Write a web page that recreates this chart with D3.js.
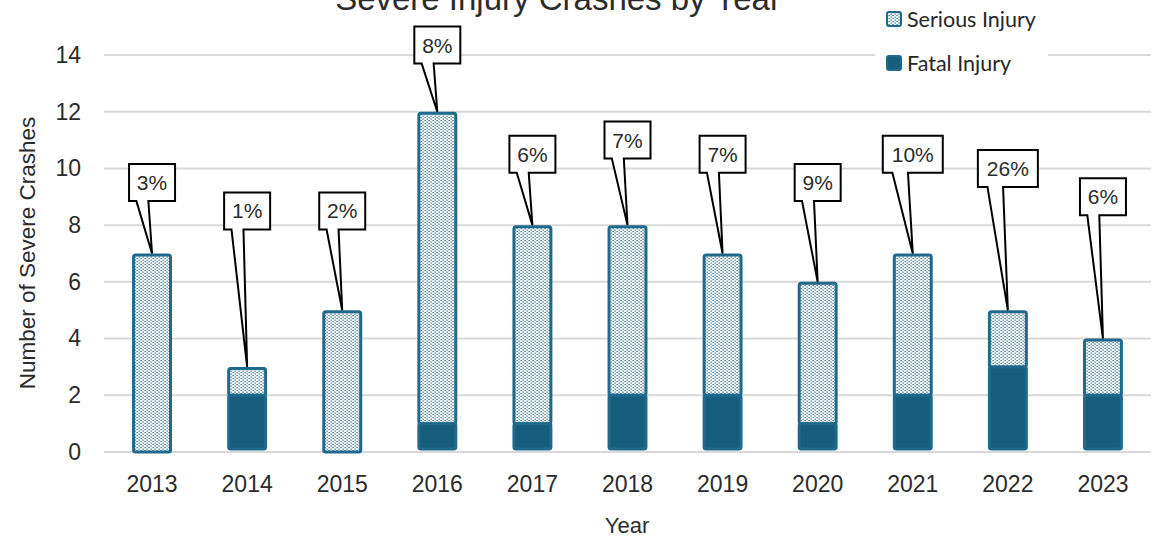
<!DOCTYPE html>
<html>
<head>
<meta charset="utf-8">
<script src="https://cdn.jsdelivr.net/npm/d3@7"></script>
<style>
  body { margin: 0; background: #ffffff; }
  svg { display: block; }
</style>
</head>
<body>
<svg id="chart" width="1167" height="540"></svg>
<script>
// values
var years = ["2013", "2014", "2015", "2016", "2017", "2018", "2019", "2020", "2021", "2022", "2023"];
var fatal = [0, 2, 0, 1, 1, 2, 2, 1, 2, 3, 2];
var serious = [7, 1, 5, 11, 7, 6, 5, 5, 5, 2, 2];
var pctLabels = ["3%", "1%", "2%", "8%", "6%", "7%", "7%", "9%", "10%", "26%", "6%"];
// height (in crash units) where each callout box sits
var labelLevel = [9.5, 8.5, 8.5, 14.35, 10.5, 11, 10.5, 9.5, 10.5, 10, 9];
var yTicks = [0, 2, 4, 6, 8, 10, 12, 14];

var teal = "#175e7e";
var tealLine = "#1f6a8c";
var textCol = "#2b2b2b";

var svg = d3.select("#chart");

var x = d3.scaleBand()
    .domain(years)
    .range([104.5, 1150.5])
    .paddingInner(0.58)
    .paddingOuter(0.29);

var y = d3.scaleLinear()
    .domain([0, 14])
    .range([452, 55]);

// dotted fill for serious injury
var defs = svg.append("defs");
var pat = defs.append("pattern")
    .attr("id", "dots")
    .attr("patternUnits", "userSpaceOnUse")
    .attr("width", 4)
    .attr("height", 3);
pat.append("rect").attr("width", 4).attr("height", 3).attr("fill", "#ffffff");
pat.append("rect").attr("x", 0.5).attr("y", 0).attr("width", 1.2).attr("height", 1.2).attr("fill", teal);
pat.append("rect").attr("x", 2.5).attr("y", 1.5).attr("width", 1.2).attr("height", 1.2).attr("fill", teal);

// gridlines
svg.append("g")
    .selectAll("line")
    .data(yTicks)
    .enter()
    .append("line")
    .attr("x1", 104)
    .attr("x2", 1151)
    .attr("y1", function(d) { return y(d); })
    .attr("y2", function(d) { return y(d); })
    .attr("stroke", "#d9d9d9")
    .attr("stroke-width", 2);

// y axis labels
var yAxis = svg.append("g")
    .attr("transform", "translate(104,0)")
    .call(d3.axisLeft(y).tickValues(yTicks).tickSize(0).tickPadding(23));
yAxis.select(".domain").remove();
yAxis.selectAll("text")
    .attr("font-family", "Liberation Sans, Arial, sans-serif")
    .attr("font-size", 23)
    .attr("fill", textCol);

// x axis labels
var xAxis = svg.append("g")
    .attr("transform", "translate(0,452)")
    .call(d3.axisBottom(x).tickSize(0).tickPadding(24));
xAxis.select(".domain").remove();
xAxis.selectAll("text")
    .attr("font-family", "Liberation Sans, Arial, sans-serif")
    .attr("font-size", 23)
    .attr("fill", textCol);

// bars
var bars = svg.append("g");
years.forEach(function(yr, i) {
    var bx = x(yr) + 1.5;
    var bw = x.bandwidth() - 3;
    var top = fatal[i] + serious[i];
    if (serious[i] > 0) {
        bars.append("rect")
            .attr("x", bx)
            .attr("y", y(top) + 1.5)
            .attr("width", bw)
            .attr("height", y(fatal[i]) - y(top) - 1.5)
            .attr("rx", 2)
            .attr("fill", "url(#dots)")
            .attr("stroke", tealLine)
            .attr("stroke-width", 3);
    }
    if (fatal[i] > 0) {
        bars.append("rect")
            .attr("x", bx)
            .attr("y", y(fatal[i]))
            .attr("width", bw)
            .attr("height", y(0) - y(fatal[i]) - 3)
            .attr("rx", 2)
            .attr("fill", teal)
            .attr("stroke", tealLine)
            .attr("stroke-width", 3);
    }
});

// callouts
var callouts = svg.append("g");
years.forEach(function(yr, i) {
    var cx = x(yr) + x.bandwidth() / 2;
    var cy = y(labelLevel[i]);
    var w = pctLabels[i].length > 2 ? 60 : 46;
    var h = 37;
    var l = cx - w / 2, r = cx + w / 2, t = cy - h / 2, b = cy + h / 2;
    var tipY = y(fatal[i] + serious[i]);
    var path = "M" + l + "," + t + "H" + r + "V" + b +
        "H" + (l + w * 0.42) + "L" + cx + "," + tipY +
        "L" + (l + w * 0.16) + "," + b + "H" + l + "Z";
    callouts.append("path")
        .attr("d", path)
        .attr("fill", "#ffffff")
        .attr("stroke", "#000000")
        .attr("stroke-width", 2)
        .attr("stroke-linejoin", "miter");
    callouts.append("text")
        .attr("x", cx)
        .attr("y", cy + 7.5)
        .attr("text-anchor", "middle")
        .attr("font-family", "Liberation Sans, Arial, sans-serif")
        .attr("font-size", 21)
        .attr("fill", textCol)
        .text(pctLabels[i]);
});

// title (cut off at top like the reference)
svg.append("text")
    .attr("x", 558)
    .attr("y", 10)
    .attr("text-anchor", "middle")
    .attr("font-family", "Liberation Sans, Arial, sans-serif")
    .attr("font-size", 33)
    .attr("fill", textCol)
    .text("Severe Injury Crashes by Year");

// axis titles
svg.append("text")
    .attr("x", 627)
    .attr("y", 533)
    .attr("text-anchor", "middle")
    .attr("font-family", "Liberation Sans, Arial, sans-serif")
    .attr("font-size", 22)
    .attr("fill", textCol)
    .text("Year");

svg.append("text")
    .attr("transform", "translate(35,253) rotate(-90)")
    .attr("text-anchor", "middle")
    .attr("font-family", "Liberation Sans, Arial, sans-serif")
    .attr("font-size", 22.5)
    .attr("fill", textCol)
    .text("Number of Severe Crashes");

// legend
var legend = svg.append("g");
legend.append("rect")
    .attr("x", 875)
    .attr("y", 0)
    .attr("width", 173)
    .attr("height", 90)
    .attr("fill", "#ffffff");

var legendItems = [
    { name: "Serious Injury", fill: "url(#dots)", y: 19 },
    { name: "Fatal Injury", fill: teal, y: 63 }
];
legendItems.forEach(function(d) {
    legend.append("rect")
        .attr("x", 887)
        .attr("y", d.y - 7)
        .attr("width", 14)
        .attr("height", 14)
        .attr("rx", 2)
        .attr("fill", d.fill)
        .attr("stroke", tealLine)
        .attr("stroke-width", 2);
    legend.append("text")
        .attr("x", 907)
        .attr("y", d.y + 7.5)
        .attr("font-family", "Lato, sans-serif")
        .attr("font-size", 21.5)
        .attr("fill", "#262626")
        .text(d.name);
});
</script>
</body>
</html>
